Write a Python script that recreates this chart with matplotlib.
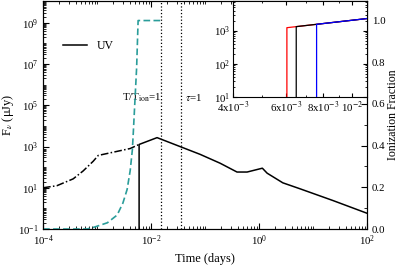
import matplotlib
matplotlib.use('Agg')
import matplotlib.pyplot as plt
import numpy as np
from matplotlib.ticker import LogLocator, NullFormatter, FixedLocator, FixedFormatter, MultipleLocator

plt.rcParams['font.family'] = ['Liberation Serif', 'DejaVu Serif']
plt.rcParams['mathtext.fontset'] = 'stix'
plt.rcParams['font.size'] = 7.8

# UV light curve (days, micro-Jy)
t_early = [1e-4, 1.8e-4, 3.6e-4, 5.5e-4, 8.5e-4, 1.05e-3, 4.1e-3, 6.0e-3]
f_early = [10, 12.6, 27, 65, 195, 370, 800, 1260]
t_late = [6.0e-3, 6.0e-3, 1.29e-2, 8.1e-2, 0.19, 0.39, 0.60, 1.15, 1.41, 2.75, 5.75, 23.4, 100]
f_late = [0.1, 1260, 2700, 417, 155, 58, 58, 89, 51, 17.4, 8.9, 2.4, 0.58]

# ionization fraction
t_ion = [1e-4, 6.5e-4, 9.1e-4, 1.55e-3, 2.35e-3, 3.0e-3, 3.6e-3, 4.1e-3, 4.5e-3, 4.7e-3,
         5.4e-3, 5.75e-3, 1.48e-2]
x_ion = [0.0, 0.0, 0.01, 0.03, 0.067, 0.124, 0.19, 0.28, 0.38, 0.47, 0.775, 1.0, 1.0]

t_Tion = 1.53e-2
t_tau = 3.6e-2

# inset: three jump times
inset_t = [6.05e-3, 6.5e-3, 7.6e-3]
inset_col = ['red', 'black', 'blue']
inset_tline = [6.05e-3, 1.12e-2]
inset_fline = [1220, 2300]

fig = plt.figure(figsize=(3.99, 2.66), dpi=100)
ax = fig.add_axes([0.108, 0.139, 0.812, 0.859])
ax.plot(t_early, f_early, color='black', lw=1.1, ls=(0, (5, 1.5, 1, 1.5)))
ax.plot(t_late, f_late, color='black', lw=1.1, label='UV')
ax.axvline(t_Tion, color='black', ls=':', lw=0.9)
ax.axvline(t_tau, color='black', ls=':', lw=0.9)
ax.set_xscale('log')
ax.set_yscale('log')
ax.set_xlim(1e-4, 100)
ax.set_ylim(0.1, 1.2e10)
ax.xaxis.set_major_locator(FixedLocator([1e-4, 1e-2, 1, 100]))
ax.xaxis.set_minor_locator(LogLocator(base=10, subs=np.arange(1, 10), numticks=30))
ax.xaxis.set_minor_formatter(NullFormatter())
ax.yaxis.set_major_locator(FixedLocator([10.0**k for k in range(-1, 11, 2)]))
ax.yaxis.set_minor_locator(LogLocator(base=10, subs=np.arange(1, 10), numticks=30))
ax.yaxis.set_minor_formatter(NullFormatter())
ax.tick_params(which='both', direction='in', top=True, right=False)
ax.tick_params(which='major', length=4)
ax.tick_params(which='minor', length=2)
ax.set_xlabel('Time (days)', labelpad=3, fontsize=9)
ax.set_ylabel('F$_\\nu$ (μJy)', labelpad=1, fontsize=9)
ax.legend(loc='upper left', bbox_to_anchor=(0.03, 0.875), frameon=False, handlelength=2.0, fontsize=8.5)
ax.text(2.9e-3, 2.4e5, r'T/T$_{\rm ion}$=1', fontsize=7.8, va='center')
ax.text(0.042, 2.4e5, r'$\tau$=1', fontsize=7.8, va='center')

ax2 = ax.twinx()
ax2.plot(t_ion, x_ion, color='#2a9d9a', ls=(0, (4, 2)), lw=1.2)
ax2.set_ylim(0, 1.096)
ax2.yaxis.set_major_locator(MultipleLocator(0.2))
ax2.yaxis.set_minor_locator(MultipleLocator(0.1))
ax2.yaxis.set_major_formatter(matplotlib.ticker.FormatStrFormatter('%.1f'))
ax2.tick_params(which='both', direction='in')
ax2.tick_params(which='major', length=4)
ax2.tick_params(which='minor', length=2)
ax2.set_ylabel('Ionization Fraction', labelpad=1, fontsize=8.6)

ins = fig.add_axes([0.584, 0.635, 0.336, 0.363])
for tj, c in zip(inset_t, inset_col):
    fj = np.interp(np.log10(tj), np.log10(inset_tline), np.log10(inset_fline))
    ins.plot([tj, tj, inset_tline[1]], [10, 10**fj, inset_fline[1]], color=c, lw=0.9)
ins.set_xscale('log')
ins.set_yscale('log')
ins.set_xlim(4e-3, 1.12e-2)
ins.set_ylim(10, 8e3)
ins.xaxis.set_major_locator(FixedLocator([4e-3, 6e-3, 8e-3, 1e-2]))
ins.xaxis.set_major_formatter(FixedFormatter([r'4x10$^{-3}$', r'6x10$^{-3}$', r'8x10$^{-3}$', r'10$^{-2}$']))
ins.xaxis.set_minor_locator(LogLocator(base=10, subs=np.arange(1, 10), numticks=30))
ins.xaxis.set_minor_formatter(NullFormatter())
ins.yaxis.set_major_locator(FixedLocator([10, 100, 1000]))
ins.yaxis.set_minor_locator(LogLocator(base=10, subs=np.arange(1, 10), numticks=30))
ins.yaxis.set_minor_formatter(NullFormatter())
ins.tick_params(which='both', direction='in', top=True, right=True, pad=2)
ins.tick_params(which='major', length=3)
ins.tick_params(which='minor', length=1.5)

fig.savefig('out.png', dpi=100)
